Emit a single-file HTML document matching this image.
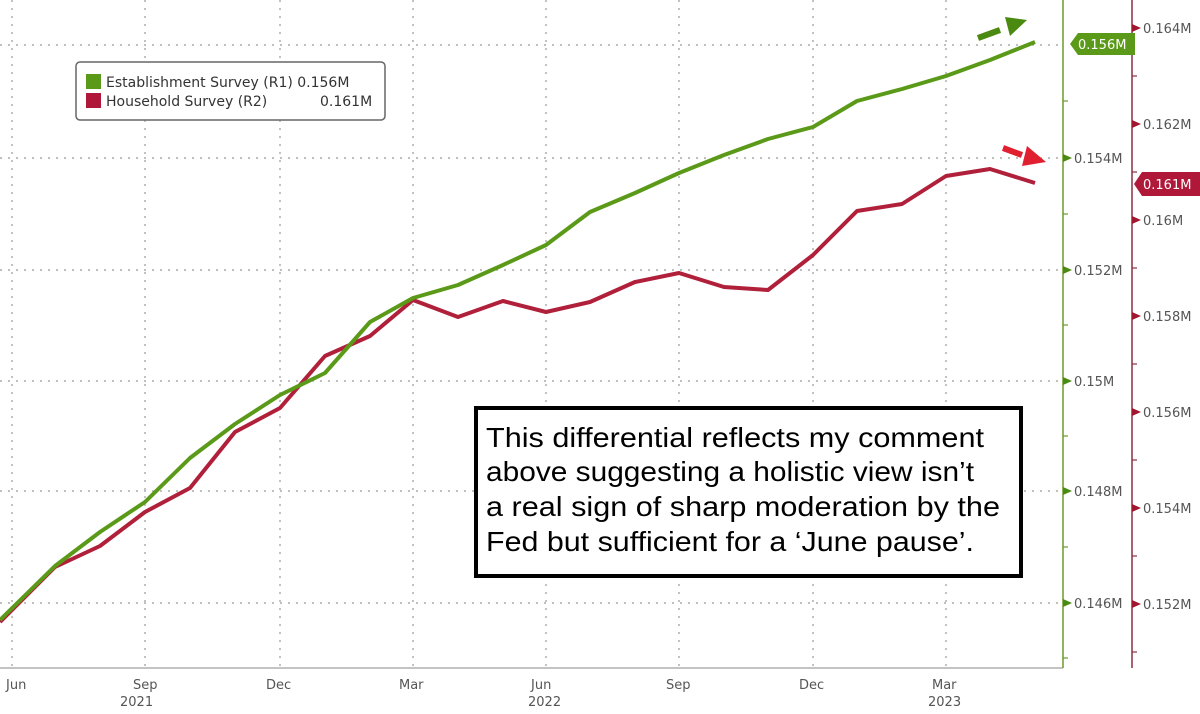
<!DOCTYPE html><html><head><style>body{margin:0;background:#fff}svg text{font-family:"DejaVu Sans",sans-serif}svg text.ann{font-family:"Liberation Sans",sans-serif}</style></head><body>
<svg width="1200" height="709" xmlns="http://www.w3.org/2000/svg">
<g stroke="#999" stroke-dasharray="2,6" stroke-width="1.2">
<line x1="12" y1="0" x2="12" y2="668"/><line x1="145" y1="0" x2="145" y2="668"/><line x1="280" y1="0" x2="280" y2="668"/><line x1="413" y1="0" x2="413" y2="668"/><line x1="546" y1="0" x2="546" y2="668"/><line x1="679" y1="0" x2="679" y2="668"/><line x1="813" y1="0" x2="813" y2="668"/><line x1="946" y1="0" x2="946" y2="668"/>
<line x1="0" y1="45" x2="1063" y2="45"/><line x1="0" y1="158" x2="1063" y2="158"/><line x1="0" y1="270" x2="1063" y2="270"/><line x1="0" y1="381" x2="1063" y2="381"/><line x1="0" y1="491" x2="1063" y2="491"/><line x1="0" y1="603" x2="1063" y2="603"/>
</g>
<line x1="0" y1="668" x2="1063" y2="668" stroke="#888"/>
<line x1="1063" y1="0" x2="1063" y2="668" stroke="#6a9a2a" stroke-width="1.5"/>
<line x1="1132" y1="0" x2="1132" y2="668" stroke="#8a3040" stroke-width="1.5"/>
<g stroke="#6a9a2a" stroke-width="1.2"><line x1="1063" y1="101" x2="1068" y2="101"/><line x1="1063" y1="214" x2="1068" y2="214"/><line x1="1063" y1="325" x2="1068" y2="325"/><line x1="1063" y1="436" x2="1068" y2="436"/><line x1="1063" y1="547" x2="1068" y2="547"/><line x1="1063" y1="658" x2="1068" y2="658"/></g>
<g stroke="#8a3040" stroke-width="1.2"><line x1="1132" y1="76" x2="1137" y2="76"/><line x1="1132" y1="172" x2="1137" y2="172"/><line x1="1132" y1="268" x2="1137" y2="268"/><line x1="1132" y1="364" x2="1137" y2="364"/><line x1="1132" y1="460" x2="1137" y2="460"/><line x1="1132" y1="556" x2="1137" y2="556"/><line x1="1132" y1="652" x2="1137" y2="652"/></g>
<g fill="#555" font-size="13">
<g fill="#4a8a10"><polygon points="1063,154 1072,158 1063,162"/><polygon points="1063,266 1072,270 1063,274"/><polygon points="1063,377 1072,381 1063,385"/><polygon points="1063,487 1072,491 1063,495"/><polygon points="1063,599 1072,603 1063,607"/></g>
<text x="1074" y="163">0.154M</text><text x="1074" y="275">0.152M</text><text x="1074" y="386">0.15M</text><text x="1074" y="496">0.148M</text><text x="1074" y="608">0.146M</text>
<g fill="#a01830"><polygon points="1132,24 1141,28 1132,32"/><polygon points="1132,120 1141,124 1132,128"/><polygon points="1132,216 1141,220 1132,224"/><polygon points="1132,312 1141,316 1132,320"/><polygon points="1132,408 1141,412 1132,416"/><polygon points="1132,504 1141,508 1132,512"/><polygon points="1132,600 1141,604 1132,608"/></g>
<text x="1143" y="33">0.164M</text><text x="1143" y="129">0.162M</text><text x="1143" y="225">0.16M</text><text x="1143" y="321">0.158M</text><text x="1143" y="417">0.156M</text><text x="1143" y="513">0.154M</text><text x="1143" y="609">0.152M</text>
<text x="6" y="689">Jun</text><text x="120" y="706">2021</text><text x="133" y="689">Sep</text><text x="266" y="689">Dec</text><text x="399" y="689">Mar</text><text x="531" y="689">Jun</text><text x="528" y="706">2022</text><text x="666" y="689">Sep</text><text x="799" y="689">Dec</text><text x="932" y="689">Mar</text><text x="928" y="706">2023</text>
</g>
<polygon points="1070,44 1078,33 1135,33 1135,55 1078,55" fill="#5a9a18"/><text x="1078" y="49" fill="#fff" font-size="13">0.156M</text>
<polygon points="1134,184 1142,172 1200,172 1200,196 1142,196" fill="#b0183a"/><text x="1143" y="189" fill="#fff" font-size="13">0.161M</text>
<polyline fill="none" stroke="#b0203a" stroke-width="4" stroke-linejoin="round" points="0,622 55,567 100,546 145,512 190,488 235,432 280,408 325,356 370,336 413,300 458,317 503,301 546,312 590,302 635,282 679,273 724,287 768,290 813,255 857,211 902,204 946,176 990,169 1035,183"/>
<polyline fill="none" stroke="#5a9a18" stroke-width="4" stroke-linejoin="round" points="0,620 55,566 100,532 145,502 190,458 235,424 280,395 325,373 370,322 413,298 458,285 503,265 546,245 590,212 635,193 679,173 724,155 768,139 813,127 857,101 902,89 946,76 990,60 1035,42"/>
<line x1="978" y1="38" x2="1000" y2="30" stroke="#4a8a10" stroke-width="6"/><polygon points="1005,17 1027,20 1010,36" fill="#4a8a10"/>
<line x1="1003" y1="148" x2="1022" y2="155" stroke="#e02030" stroke-width="6"/><polygon points="1027,146 1046,162 1022,166" fill="#e02030"/>
<rect x="76" y="62" width="309" height="58" rx="4" fill="#fff" stroke="#666" stroke-width="1.5"/>
<rect x="86" y="74" width="15" height="15" fill="#5a9a18"/><rect x="86" y="93" width="15" height="15" fill="#b0183a"/>
<g font-size="14" fill="#333"><text x="106" y="87">Establishment Survey (R1) 0.156M</text><text x="106" y="106">Household Survey (R2)</text><text x="320" y="106">0.161M</text></g>
<rect x="476" y="408" width="545" height="168" fill="#fff" stroke="#000" stroke-width="4"/>
<g font-size="28" fill="#000"><text class="ann" x="486" y="447" textLength="498" lengthAdjust="spacingAndGlyphs">This differential reflects my comment</text><text class="ann" x="486" y="481" textLength="488" lengthAdjust="spacingAndGlyphs">above suggesting a holistic view isn’t</text><text class="ann" x="486" y="516" textLength="514" lengthAdjust="spacingAndGlyphs">a real sign of sharp moderation by the</text><text class="ann" x="486" y="551" textLength="488" lengthAdjust="spacingAndGlyphs">Fed but sufficient for a ‘June pause’.</text></g>
</svg></body></html>
